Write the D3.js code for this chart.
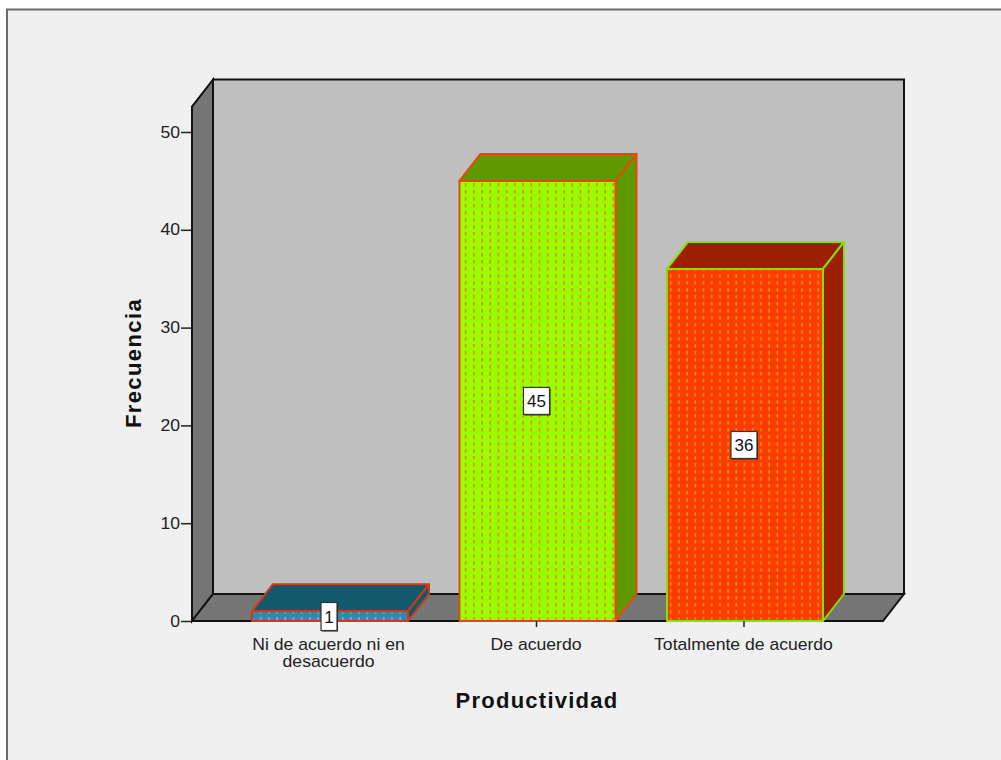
<!DOCTYPE html>
<html><head><meta charset="utf-8">
<script src="https://cdn.jsdelivr.net/npm/d3@7"></script>
<style>html,body{margin:0;padding:0;background:#fff}svg{display:block}text{font-family:"Liberation Sans",Arial,sans-serif}</style>
</head><body><svg id="c" width="1001" height="760"></svg>
<script>
const categories = ["Ni de acuerdo ni en|desacuerdo", "De acuerdo", "Totalmente de acuerdo"];
const values = [1, 45, 36];
const yTicks = [0, 10, 20, 30, 40, 50];
const faceColors = ["#2e8bb0", "#99ff00", "#ff3c00"];
const sideColors = ["#14586c", "#5f9900", "#9c2000"];
const edgeColors = ["#d13a12", "#e8470c", "#86e000"];
const dotColors = ["#7fb4c8", "#f07a10", "#d89a00"];
const xTitle = "Productividad", yTitle = "Frecuencia";

const svg = d3.select("#c");
const W = 1001, H = 760;
const dx = 21, dy = -27;
const stretch = 1.1;
const y = d3.scaleLinear().domain([0, 50]).range([621, 132]);
const x = d3.scaleBand().domain(categories).range([210.5, 864.5]).paddingInner(0.248).paddingOuter(0.2);
const left = 192, right = 883, top0 = y(52.6);
const poly = p => p.map(q => q.join(",")).join(" ");

svg.append("rect").attr("width", W).attr("height", H).attr("fill", "#fff");
svg.append("rect").attr("x", 7).attr("y", 9.5).attr("width", W + 20).attr("height", H + 20)
  .attr("fill", "#f0f0f0").attr("stroke", "#6a6a6a").attr("stroke-width", 2);

const defs = svg.append("defs");
categories.forEach((c, i) => {
  const p = defs.append("pattern").attr("id", "dots" + i).attr("patternUnits", "userSpaceOnUse")
    .attr("width", 8.2).attr("height", 7);
  p.append("rect").attr("width", 8.2).attr("height", 7).attr("fill", faceColors[i]);
  p.append("rect").attr("x", 5.8).attr("y", 1).attr("width", 1.5).attr("height", 3.6).attr("fill", dotColors[i]);
});

// walls
const stroke = "#111";
svg.append("polygon").attr("points", poly([[left + dx, y(0) + dy], [right + dx, y(0) + dy], [right + dx, top0 + dy], [left + dx, top0 + dy]]))
  .attr("fill", "#bfbfbf").attr("stroke", stroke).attr("stroke-width", 2);
svg.append("polygon").attr("points", poly([[left, y(0)], [left + dx, y(0) + dy], [left + dx, top0 + dy], [left, top0]]))
  .attr("fill", "#757575").attr("stroke", stroke).attr("stroke-width", 2);
svg.append("polygon").attr("points", poly([[left, y(0)], [right, y(0)], [right + dx, y(0) + dy], [left + dx, y(0) + dy]]))
  .attr("fill", "#757575").attr("stroke", stroke).attr("stroke-width", 2);

// y axis
const axisY = d3.axisLeft(y).tickValues(yTicks).tickSize(11).tickPadding(1);
const gy = svg.append("g").attr("transform", `translate(${left},0)`).call(axisY);
gy.select(".domain").remove();
gy.selectAll("line").attr("stroke", "#222").attr("stroke-width", 1.5);
gy.selectAll("text").attr("font-size", 16).attr("fill", "#222").attr("font-family", '"Liberation Sans",Arial,sans-serif')
  .attr("transform", function () { const xx = +d3.select(this).attr("x"); return `translate(${xx * (1 - stretch)},0) scale(${stretch},1)`; });

// bars
const bars = svg.append("g").selectAll("g").data(categories).join("g");
bars.each(function (c, i) {
  const g = d3.select(this), x0 = x(c), x1 = x0 + x.bandwidth(), yt = y(values[i]), yb = y(0);
  const st = { stroke: edgeColors[i], "stroke-width": 2, "stroke-linejoin": "round" };
  const add = (pts, fill) => { const e = g.append("polygon").attr("points", poly(pts)).attr("fill", fill); for (const k in st) e.attr(k, st[k]); };
  add([[x0, yt], [x0 + dx, yt + dy], [x1 + dx, yt + dy], [x1, yt]], sideColors[i]);
  add([[x1, yt], [x1 + dx, yt + dy], [x1 + dx, yb + dy], [x1, yb]], sideColors[i]);
  add([[x0, yt], [x1, yt], [x1, yb], [x0, yb]], `url(#dots${i})`);
});

// baseline tick marks
const gx = svg.append("g").attr("transform", `translate(0,${y(0)})`);
gx.selectAll("line").data(categories).join("line")
  .attr("x1", d => x(d) + x.bandwidth() / 2 - 1).attr("x2", d => x(d) + x.bandwidth() / 2 - 1)
  .attr("y1", 0).attr("y2", 6).attr("stroke", "#222").attr("stroke-width", 1.5);

// category labels
svg.append("g").selectAll("g").data(categories).join("g")
  .attr("transform", d => `translate(${x(d) + x.bandwidth() / 2 - 1.5},649.5) scale(${stretch},1)`)
  .each(function (d) {
    d.split("|").forEach((t, i) => d3.select(this).append("text")
      .attr("text-anchor", "middle").attr("font-size", 16).attr("fill", "#222")
      .attr("y", i * 17.5).text(t));
  });

// value labels
values.forEach((v, i) => {
  const cx = x(categories[i]) + x.bandwidth() / 2 - 1;
  const h = v === 1 ? 28 : 27, w = String(v).length > 1 ? 26 : 16;
  const top = v === 1 ? 602.5 : (y(v) + y(0)) / 2 - h / 2;
  svg.append("rect").attr("x", cx - w / 2 + 1).attr("y", top + 1).attr("width", w).attr("height", h).attr("fill", "#222");
  svg.append("rect").attr("x", cx - w / 2).attr("y", top).attr("width", w).attr("height", h)
    .attr("fill", "#fff").attr("stroke", "#333").attr("stroke-width", 1.2);
  svg.append("text").attr("x", cx).attr("y", top + h / 2 + 6)
    .attr("text-anchor", "middle").attr("font-size", 17).attr("fill", "#111").text(v);
});

// titles
svg.append("text").attr("x", 537).attr("y", 708).attr("text-anchor", "middle").attr("letter-spacing", 1.25)
  .attr("font-size", 22).attr("font-weight", "bold").attr("fill", "#111").text(xTitle);
svg.append("text").attr("transform", "translate(141,363) rotate(-90)").attr("text-anchor", "middle").attr("letter-spacing", 1.4)
  .attr("font-size", 22).attr("font-weight", "bold").attr("fill", "#111").text(yTitle);
</script></body></html>
